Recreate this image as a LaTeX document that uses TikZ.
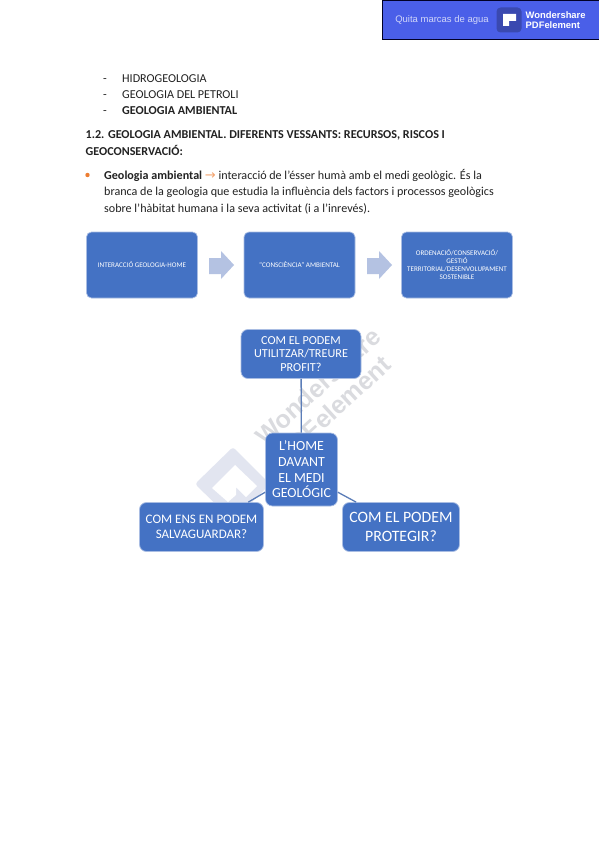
\documentclass[tikz,border=0pt]{standalone}
\usepackage{fontspec}
\setmainfont{Carlito}
\newfontfamily\wmfont{Liberation Sans}
\definecolor{boxblue}{HTML}{4472C4}
\definecolor{boxedge}{HTML}{A9BDE3}
\definecolor{arrowblue}{HTML}{B4C2E2}
\definecolor{bannerblue}{HTML}{4A5FE8}
\definecolor{bannerlogoc}{HTML}{3A49B0}
\definecolor{linkblue}{HTML}{5B7DB8}
\definecolor{bodyink}{HTML}{222222}
\definecolor{accent}{HTML}{ED7D31}
\definecolor{wmgray}{HTML}{DADBDF}
\definecolor{wmlogo}{HTML}{E2E5F0}
\tikzset{
  x=1pt,y=-1pt,
  bodytext/.style={anchor=base west,inner sep=0,text=bodyink,font=\fontsize{12.1}{14}\selectfont},
  boldtext/.style={bodytext,font=\fontsize{12.1}{14}\selectfont\bfseries},
  flowbox/.style={draw=boxedge,line width=0.7pt,fill=boxblue,rounded corners=5pt,text=white,align=center,inner sep=1pt,font=\fontsize{7.1}{8}\selectfont},
  mapbox/.style={draw=boxedge,line width=0.7pt,fill=boxblue,rounded corners=7pt,text=white,align=center,inner sep=1pt},
  maplink/.style={draw=linkblue,line width=1.3pt},
  watermark/.style={text=wmgray,font=\wmfont\bfseries\fontsize{25}{25}\selectfont,rotate=42.5,inner sep=0}
}
\begin{document}
\begin{tikzpicture}
\useasboundingbox (0,0) rectangle (599,848);
\fill[white] (0,0) rectangle (599,848);
% banner
\node[draw=black!85!blue,line width=1pt,fill=bannerblue,minimum width=217pt,minimum height=39pt,inner sep=0,anchor=north west] (banner) at (382,0.5) {};
\node[text=white!75!bannerblue,font=\wmfont\fontsize{9.5}{11}\selectfont,inner sep=0] (bannerq) at (442,20) {Quita marcas de agua};
\node[fill=bannerlogoc,rounded corners=4pt,minimum size=25pt,inner sep=0] (bannerlogo) at (509,20) {};
\fill[white] (503,14) -- (516,14) -- (516,21) -- (509,21) -- (509,26) -- (503,26) -- cycle;
\node[text=white,font=\wmfont\bfseries\fontsize{9.4}{10}\selectfont,align=left,inner sep=0,anchor=west] (bannerbrand) at (525.5,20) {Wondershare\\PDFelement};
% text
\node[bodytext] (d1) at (103,82.5) {-};
\node[bodytext] (d2) at (103,99) {-};
\node[bodytext] (d3) at (103,115) {-};
\node[bodytext] (l1) at (122,82.5) {HIDROGEOLOGIA};
\node[bodytext] (l2) at (122,99) {GEOLOGIA DEL PETROLI};
\node[boldtext] (l3) at (122,115) {GEOLOGIA AMBIENTAL};
\node[boldtext] (h1) at (85.5,139) {1.2. GEOLOGIA AMBIENTAL. DIFERENTS VESSANTS: RECURSOS, RISCOS I};
\node[boldtext] (h2) at (85.5,155.5) {GEOCONSERVACIÓ:};
\fill[accent] (87.5,175) circle (2.2);
\node[bodytext] (p1) at (104,179) {\textbf{Geologia ambiental} \textcolor{accent!70!white}{\fontspec{DejaVu Sans}\fontsize{13}{14}\selectfont→} interacció de l’ésser humà amb el medi geològic. És la};
\node[bodytext] (p2) at (104,195.5) {branca de la geologia que estudia la influència dels factors i processos geològics};
\node[bodytext] (p3) at (104,212) {sobre l’hàbitat humana i la seva activitat (i a l’inrevés).};
% flow
\node[flowbox,minimum width=111pt,minimum height=66pt] (f1) at (142,265) {INTERACCIÓ GEOLOGIA-HOME};
\node[flowbox,minimum width=111pt,minimum height=66pt] (f2) at (299.5,265) {“CONSCIÈNCIA” AMBIENTAL};
\node[flowbox,minimum width=111pt,minimum height=66pt] (f3) at (457,265) {ORDENACIÓ/CONSERVACIÓ/\\GESTIÓ\\TERRITORIAL/DESENVOLUPAMENT\\SOSTENIBLE};
\fill[arrowblue] (209,258) -- (221,258) -- (221,251) -- (234,265) -- (221,279) -- (221,274) -- (209,274) -- cycle;
\fill[arrowblue] (367,258) -- (379,258) -- (379,251) -- (392,265) -- (379,279) -- (379,274) -- (367,274) -- cycle;
% watermark
\node[watermark,anchor=base west] (wm1) at (265,447) {Wondershare};
\node[watermark,anchor=base east] (wm2) at (393,367) {PDFelement};
\fill[wmlogo,rounded corners=3pt] (233,447) -- (270,484) -- (233,521) -- (195,484) -- cycle;
\fill[white] (212,488) -- (235,465) -- (257,486) -- (246,497) -- (236,487) -- (236,495) -- (228,502) -- cycle;
% map
\node[mapbox,minimum width=120pt,minimum height=49pt,font=\fontsize{12.2}{13.7}\selectfont] (top) at (301,354) {COM EL PODEM\\UTILITZAR/TREURE\\PROFIT?};
\node[mapbox,minimum width=72pt,minimum height=73pt,font=\fontsize{13.9}{15.7}\selectfont] (mid) at (301.5,469.5) {L'HOME\\DAVANT\\EL MEDI\\GEOLÓGIC};
\node[mapbox,minimum width=124pt,minimum height=49pt,font=\fontsize{13}{14.7}\selectfont] (left) at (201.5,527) {COM ENS EN PODEM\\SALVAGUARDAR?};
\node[mapbox,minimum width=117pt,minimum height=49pt,font=\fontsize{15.8}{18.3}\selectfont] (right) at (401,527) {COM EL PODEM\\PROTEGIR?};
\draw[maplink] (top) -- (mid);
\draw[maplink] (mid.212) -- (left.28);
\draw[maplink] (mid.-32) -- (right.151);
\end{tikzpicture}
\end{document}
